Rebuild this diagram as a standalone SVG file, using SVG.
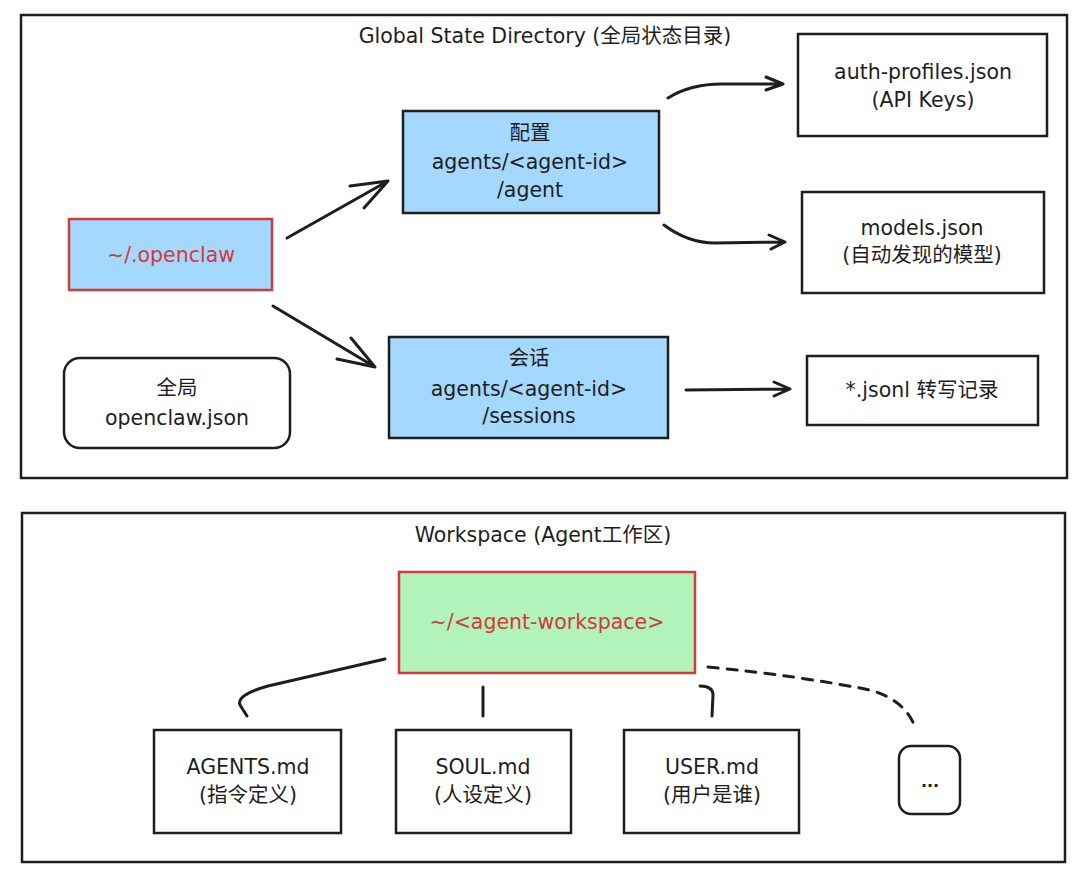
<svg xmlns="http://www.w3.org/2000/svg" width="1080" height="879" viewBox="0 0 1080 879">
<style>
text{font-family:"DejaVu Sans","Noto Sans CJK SC",sans-serif;font-size:20.5px;fill:#1e1e1e;text-anchor:middle;dominant-baseline:central}
.frame{fill:#fff;stroke:#1e1e1e;stroke-width:2.5}
.box{fill:#fff;stroke:#1e1e1e;stroke-width:2.5}
.blue{fill:#a5d8ff;stroke:#1e1e1e;stroke-width:2.5}
.root{fill:#a5d8ff;stroke:#d33a3a;stroke-width:2.5}
.green{fill:#b2f2bb;stroke:#d33a3a;stroke-width:2.5}
.red{fill:#d33a3a}
.c{fill:none;stroke:#1e1e1e;stroke-width:3;stroke-linecap:round;stroke-linejoin:round}
.d{stroke-dasharray:10 9}
.dots{font-size:16px;font-weight:bold}
</style>
<rect width="1080" height="879" fill="#fff"/>
<g id="global-frame">
<rect class="frame" x="21" y="15" width="1046" height="463"/>
<text x="545" y="36">Global State Directory (全局状态目录)</text>
</g>
<g id="workspace-frame">
<rect class="frame" x="22" y="513" width="1043" height="349"/>
<text x="543" y="535">Workspace (Agent工作区)</text>
</g>
<g id="connectors">
<path class="c" d="M287,238 L388,181 M350,186 L388,181 L364,208"/>
<path class="c" d="M273,306 L375,367 M337,359 L375,367 L351,338"/>
<path class="c" d="M668,98 Q690,84 722,84 L783,84 M766,77 L783,84 L766,90"/>
<path class="c" d="M664,225 Q688,243 715,243 L785,242 M769,235 L785,242 L771,249"/>
<path class="c" d="M686,390 L790,389 M774,382 L790,389 L774,396"/>
<path class="c" d="M385,659 L268,686 Q236,695 240,705 L247,716"/>
<path class="c" d="M483,687 L483,716"/>
<path class="c" d="M700,686 Q713,686 713,695 L712,716"/>
<path class="c d" d="M708,667 Q800,676 870,690 Q905,700 915,727"/>
</g>
<g id="node-openclaw">
<rect class="root" x="69" y="219" width="203" height="71"/>
<text class="red" x="171" y="255">~/.openclaw</text>
</g>
<g id="node-global-json">
<rect class="box" x="64" y="358" width="226" height="90" rx="16"/>
<text x="177" y="388">全局</text>
<text x="177" y="418">openclaw.json</text>
</g>
<g id="node-config">
<rect class="blue" x="403" y="111" width="256" height="102"/>
<text x="530" y="133">配置</text>
<text x="530" y="162">agents/&lt;agent-id&gt;</text>
<text x="530" y="190">/agent</text>
</g>
<g id="node-sessions">
<rect class="blue" x="389" y="337" width="279" height="101"/>
<text x="529" y="358">会话</text>
<text x="529" y="389">agents/&lt;agent-id&gt;</text>
<text x="529" y="416">/sessions</text>
</g>
<g id="node-auth">
<rect class="box" x="798" y="34" width="249" height="102"/>
<text x="923" y="72">auth-profiles.json</text>
<text x="923" y="100">(API Keys)</text>
</g>
<g id="node-models">
<rect class="box" x="802" y="192" width="242" height="101"/>
<text x="922" y="228">models.json</text>
<text x="922" y="255">(自动发现的模型)</text>
</g>
<g id="node-jsonl">
<rect class="box" x="807" y="356" width="231" height="69"/>
<text x="922" y="390">*.jsonl 转写记录</text>
</g>
<g id="node-workspace">
<rect class="green" x="399" y="572" width="296" height="101"/>
<text class="red" x="547" y="622">~/&lt;agent-workspace&gt;</text>
</g>
<g id="node-agents">
<rect class="box" x="154" y="730" width="187" height="103"/>
<text x="248" y="767">AGENTS.md</text>
<text x="248" y="795">(指令定义)</text>
</g>
<g id="node-soul">
<rect class="box" x="396" y="730" width="175" height="103"/>
<text x="483" y="767">SOUL.md</text>
<text x="483" y="795">(人设定义)</text>
</g>
<g id="node-user">
<rect class="box" x="624" y="730" width="175" height="103"/>
<text x="712" y="767">USER.md</text>
<text x="712" y="795">(用户是谁)</text>
</g>
<g id="node-more">
<rect class="box" x="899" y="746" width="61" height="68" rx="12"/>
<text class="dots" x="930" y="781">...</text>
</g>
</svg>
